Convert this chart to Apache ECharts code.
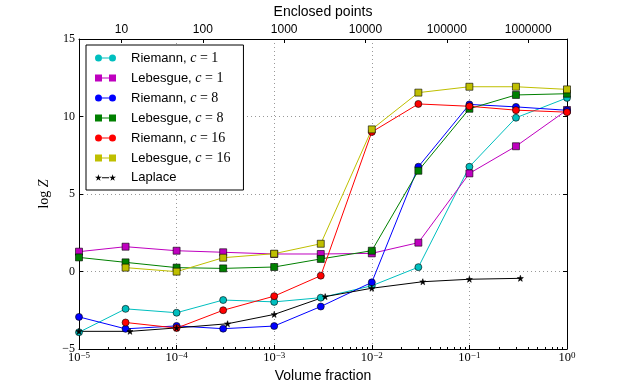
<!DOCTYPE html>
<html>
<head>
<meta charset="utf-8">
<script src="https://cdn.jsdelivr.net/npm/echarts@6/dist/echarts.min.js"></script>
<style>
  html, body { margin: 0; padding: 0; background: #fff; }
  #chart { width: 630px; height: 389px; }
</style>
</head>
<body>
<div id="chart"></div>
<script>
// x positions (volume fraction)
const volumeFraction = [1e-5, 3e-5, 1e-4, 3e-4, 1e-3, 3e-3, 1e-2, 3e-2, 1e-1, 3e-1, 1];
const laplaceFraction = [1e-5, 3.33e-5, 1e-4, 3.33e-4, 1e-3, 3.33e-3, 1e-2, 3.33e-2, 1e-1, 3.33e-1];

// log Z values
const riemann1   = [-3.92, -2.41, -2.66, -1.84, -1.96, -1.69, -0.92, 0.28, 6.76, 9.92, 11.2];
const lebesgue1  = [1.28, 1.60, 1.34, 1.24, 1.13, 1.13, 1.17, 1.86, 6.33, 8.08, 10.42];
const riemann8   = [-2.93, -3.70, -3.51, -3.69, -3.52, -2.26, -0.70, 6.76, 10.78, 10.62, 10.4];
const lebesgue8  = [0.91, 0.59, 0.25, 0.20, 0.29, 0.81, 1.34, 6.50, 10.5, 11.39, 11.47];
const riemann16  = [null, -3.29, -3.65, -2.50, -1.59, -0.27, 9.0, 10.81, 10.66, 10.41, 10.28];
const lebesgue16 = [null, 0.25, -0.01, 0.89, 1.15, 1.79, 9.17, 11.54, 11.92, 11.92, 11.75];
const laplace    = [-3.86, -3.86, -3.64, -3.37, -2.77, -1.62, -1.08, -0.66, -0.50, -0.44];

// axis ticks
const bottomTicks = [1e-5, 1e-4, 1e-3, 1e-2, 1e-1, 1];
const topTicks = [10, 100, 1000, 10000, 100000, 1000000];
const minorTicks = [];
for (let e = -5; e < 0; e++) {
  for (let k = 2; k <= 9; k++) minorTicks.push(k * Math.pow(10, e));
}

const SANS = 'Liberation Sans';
const SERIF = 'Liberation Serif';

const STAR = 'path://M50,0L61.2,34.5L97.6,34.5L68.2,55.9L79.4,90.5L50,69.1L20.6,90.5L31.8,55.9L2.4,34.5L38.8,34.5Z';
const ICON_CIRCLE = 'path://M0,3.5A3.5,3.5,0,1,1,7,3.5A3.5,3.5,0,1,1,0,3.5Z' +
  'M14,3.5A3.5,3.5,0,1,1,21,3.5A3.5,3.5,0,1,1,14,3.5ZM7,3H14V4H7Z';
const ICON_SQUARE = 'path://M0,0H7V7H0ZM14,0H21V7H14ZM7,3H14V4H7Z';
const ICON_STAR = 'path://M3.5,0L4.28,2.42L6.83,2.42L4.77,3.91L5.56,6.33L3.5,4.84L1.44,6.33L2.23,3.91L0.17,2.42L2.72,2.42Z' +
  'M17.5,0L18.28,2.42L20.83,2.42L18.77,3.91L19.56,6.33L17.5,4.84L15.44,6.33L16.23,3.91L14.17,2.42L16.72,2.42Z' +
  'M7,2.9H14V3.9H7Z';

function pairs(xs, ys) {
  const out = [];
  xs.forEach((x, i) => { if (ys[i] != null) out.push([x, ys[i]]); });
  return out;
}

function makeSeries(name, xs, ys, color, symbol, size) {
  return {
    name: name,
    type: 'line',
    xAxisIndex: 0,
    yAxisIndex: 0,
    data: pairs(xs, ys),
    symbol: symbol,
    symbolSize: size,
    showAllSymbol: true,
    lineStyle: { color: color, width: 1 },
    itemStyle: { color: color, borderColor: '#000', borderWidth: 0.6 },
    emphasis: { disabled: true }
  };
}

const seriesList = [
  makeSeries('Riemann, c = 1', volumeFraction, riemann1, '#00bfbf', 'circle', 7),
  makeSeries('Lebesgue, c = 1', volumeFraction, lebesgue1, '#bf00bf', 'rect', 7),
  makeSeries('Riemann, c = 8', volumeFraction, riemann8, '#0000ff', 'circle', 7),
  makeSeries('Lebesgue, c = 8', volumeFraction, lebesgue8, '#008000', 'rect', 7),
  makeSeries('Riemann, c = 16', volumeFraction, riemann16, '#ff0000', 'circle', 7),
  makeSeries('Lebesgue, c = 16', volumeFraction, lebesgue16, '#bfbf00', 'rect', 7),
  makeSeries('Laplace', laplaceFraction, laplace, '#000000', STAR, 6)
];

const legendIcons = [ICON_CIRCLE, ICON_SQUARE, ICON_CIRCLE, ICON_SQUARE, ICON_CIRCLE, ICON_SQUARE, ICON_STAR];

function expLabel(v) {
  const e = Math.round(Math.log10(v));
  const s = e < 0 ? '\u2212' + (-e) : String(e);
  return '{b|10}{e|' + s + '}';
}

const chart = echarts.init(document.getElementById('chart'));
chart.setOption({
  animation: false,
  backgroundColor: '#fff',
  grid: { left: 79, right: 63, top: 39, bottom: 40 },
  legend: {
    orient: 'vertical',
    left: 86,
    top: 45,
    padding: [6, 13, 6, 9],
    itemWidth: 21,
    itemHeight: 7,
    itemGap: 6,
    backgroundColor: '#fff',
    borderColor: '#000',
    borderWidth: 1,
    borderRadius: 0,
    itemStyle: { borderWidth: 0 },
    data: seriesList.map((s, i) => ({ name: s.name, icon: legendIcons[i] })),
    formatter: function (name) {
      const parts = name.split(', ');
      if (parts.length < 2) return '{s|' + name + '}';
      const n = parts[1].split(' = ')[1];
      return '{s|' + parts[0] + ', }{m|c}{r| = ' + n + '}';
    },
    textStyle: {
      padding: [0, 0, 0, 10],
      rich: {
        s: { fontFamily: SANS, fontSize: 13, color: '#000', lineHeight: 14 },
        m: { fontFamily: SERIF, fontStyle: 'italic', fontSize: 14, color: '#000', lineHeight: 14 },
        r: { fontFamily: SERIF, fontSize: 14, color: '#000', lineHeight: 14 }
      }
    }
  },
  xAxis: [
    {
      type: 'log',
      logBase: 10,
      position: 'bottom',
      min: 1e-5,
      max: 1,
      name: 'Volume fraction',
      nameLocation: 'middle',
      nameGap: 17,
      nameTextStyle: { fontFamily: SANS, fontSize: 14, color: '#000' },
      axisLine: { onZero: false, lineStyle: { color: '#000', width: 1 } },
      axisTick: { inside: true, length: 4, customValues: bottomTicks, lineStyle: { color: '#000' } },
      axisLabel: {
        customValues: bottomTicks,
        margin: 2,
        formatter: expLabel,
        rich: {
          b: { fontFamily: SERIF, fontSize: 12.5, color: '#000', lineHeight: 14 },
          e: { fontFamily: SERIF, fontSize: 9, color: '#000', lineHeight: 8, verticalAlign: 'top' }
        }
      },
      splitLine: { show: true, lineStyle: { color: '#999', type: [1, 3], width: 1 } }
    },
    {
      type: 'log',
      logBase: 10,
      position: 'top',
      min: 3,
      max: 3e6,
      name: 'Enclosed points',
      nameLocation: 'middle',
      nameGap: 16,
      nameTextStyle: { fontFamily: SANS, fontSize: 14, color: '#000' },
      axisLine: { onZero: false, lineStyle: { color: '#000', width: 1 } },
      axisTick: { inside: true, length: 4, customValues: topTicks, lineStyle: { color: '#000' } },
      axisLabel: {
        customValues: topTicks,
        margin: 3,
        fontFamily: SANS,
        fontSize: 12,
        color: '#000',
        formatter: v => String(Math.round(v))
      },
      splitLine: { show: false }
    },
    {
      type: 'log',
      logBase: 10,
      position: 'bottom',
      min: 1e-5,
      max: 1,
      axisLine: { show: false, onZero: false },
      axisTick: { inside: true, length: 2, customValues: minorTicks, lineStyle: { color: '#000' } },
      axisLabel: { show: false },
      splitLine: { show: false }
    }
  ],
  yAxis: [
    {
      type: 'value',
      position: 'left',
      min: -5,
      max: 15,
      interval: 5,
      name: '{r|log }{i|Z}',
      nameLocation: 'middle',
      nameGap: 22,
      nameTextStyle: {
        rich: {
          r: { fontFamily: SERIF, fontSize: 14, color: '#000' },
          i: { fontFamily: SERIF, fontStyle: 'italic', fontSize: 14, color: '#000' }
        }
      },
      axisLine: { show: true, onZero: false, lineStyle: { color: '#000', width: 1 } },
      axisTick: { show: true, inside: true, length: 4, lineStyle: { color: '#000' } },
      axisLabel: {
        margin: 4,
        fontFamily: SERIF,
        fontSize: 12,
        color: '#000',
        formatter: v => (v < 0 ? '\u2212' + (-v) : String(v))
      },
      splitLine: { show: true, lineStyle: { color: '#999', type: [1, 3], width: 1 } }
    },
    {
      type: 'value',
      position: 'right',
      min: -5,
      max: 15,
      interval: 5,
      axisLine: { show: true, onZero: false, lineStyle: { color: '#000', width: 1 } },
      axisTick: { show: true, inside: true, length: 4, lineStyle: { color: '#000' } },
      axisLabel: { show: false },
      splitLine: { show: false }
    }
  ],
  series: seriesList
});
</script>
</body>
</html>
